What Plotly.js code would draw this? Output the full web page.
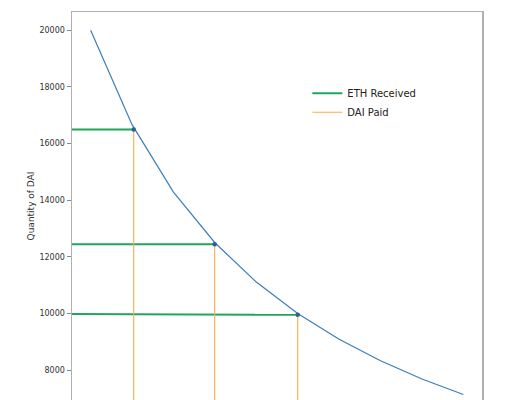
<!DOCTYPE html>
<html>
<head>
<meta charset="utf-8">
<script src="https://cdn.plot.ly/plotly-3.0.1.min.js"></script>
<style>html,body{margin:0;padding:0;background:#fff;}#chart{width:520px;height:400px;}</style>
</head>
<body>
<div id="chart"></div>
<script>
// Curve: quantity of ETH vs quantity of DAI
var ethQty = [10, 12, 14, 16, 18, 20, 22, 24, 26, 28];
var daiQty = [20000, 16667, 14286, 12500, 11111, 10000, 9091, 8333, 7692, 7143];

// Trade points on the curve
var tradeX = [12.08, 15.99, 20.0];
var tradeY = [16495, 12446, 9955];

// Green "ETH Received" lines: start at left edge of axes
var ethLineStartX = 9.1;
var ethLineStartY = [16495, 12446, 9988];

// Orange "DAI Paid" lines: drop to bottom of axes
var daiLineBottomY = 6500;

var yTicks = [8000, 10000, 12000, 14000, 16000, 18000, 20000];

var gx = [], gy = [], ox = [], oy = [];
for (var i = 0; i < tradeX.length; i++) {
  gx.push(ethLineStartX, tradeX[i], null);
  gy.push(ethLineStartY[i], tradeY[i], null);
  ox.push(tradeX[i], tradeX[i], null);
  oy.push(tradeY[i], daiLineBottomY, null);
}

var traces = [
  {x: ethQty, y: daiQty, mode: 'lines', line: {color: '#3b7fb6', width: 1.2}, showlegend: false, hoverinfo: 'skip'},
  {x: gx, y: gy, mode: 'lines', name: 'ETH Received', line: {color: '#1fa659', width: 2}},
  {x: ox, y: oy, mode: 'lines', name: 'DAI Paid', line: {color: '#f9ad45', width: 1.1}},
  {x: tradeX, y: tradeY, mode: 'markers', marker: {color: '#2f5f98', size: 4.5}, showlegend: false}
];

var layout = {
  width: 520, height: 400,
  margin: {l: 72, r: 38, t: 12, b: 0},
  paper_bgcolor: '#ffffff', plot_bgcolor: '#ffffff',
  font: {family: 'DejaVu Sans', size: 8, color: '#333333'},
  showlegend: true,
  legend: {x: 0.574, y: 0.828, xanchor: 'left', yanchor: 'top', bgcolor: 'rgba(255,255,255,0)',
           font: {size: 10, color: '#222222'}, itemwidth: 30, tracegroupgap: 0},
  xaxis: {range: [9.1, 28.9], side: 'top', showline: true, linecolor: '#b0b0b0', linewidth: 1.5,
          mirror: false, showgrid: false, zeroline: false, ticks: '', showticklabels: false},
  yaxis: {range: [6950, 20643], showline: true, mirror: true, linecolor: '#b0b0b0', linewidth: 1.5,
          showgrid: false, zeroline: false, ticks: 'outside', ticklen: 4, tickwidth: 1, tickcolor: '#888888',
          tickvals: yTicks, ticktext: yTicks.map(String), tickfont: {size: 8, color: '#333333'},
          title: {text: 'Quantity of DAI', font: {size: 9, color: '#333333'}, standoff: 3}}
};

Plotly.newPlot('chart', traces, layout, {displayModeBar: false, staticPlot: true});
</script>
</body>
</html>
